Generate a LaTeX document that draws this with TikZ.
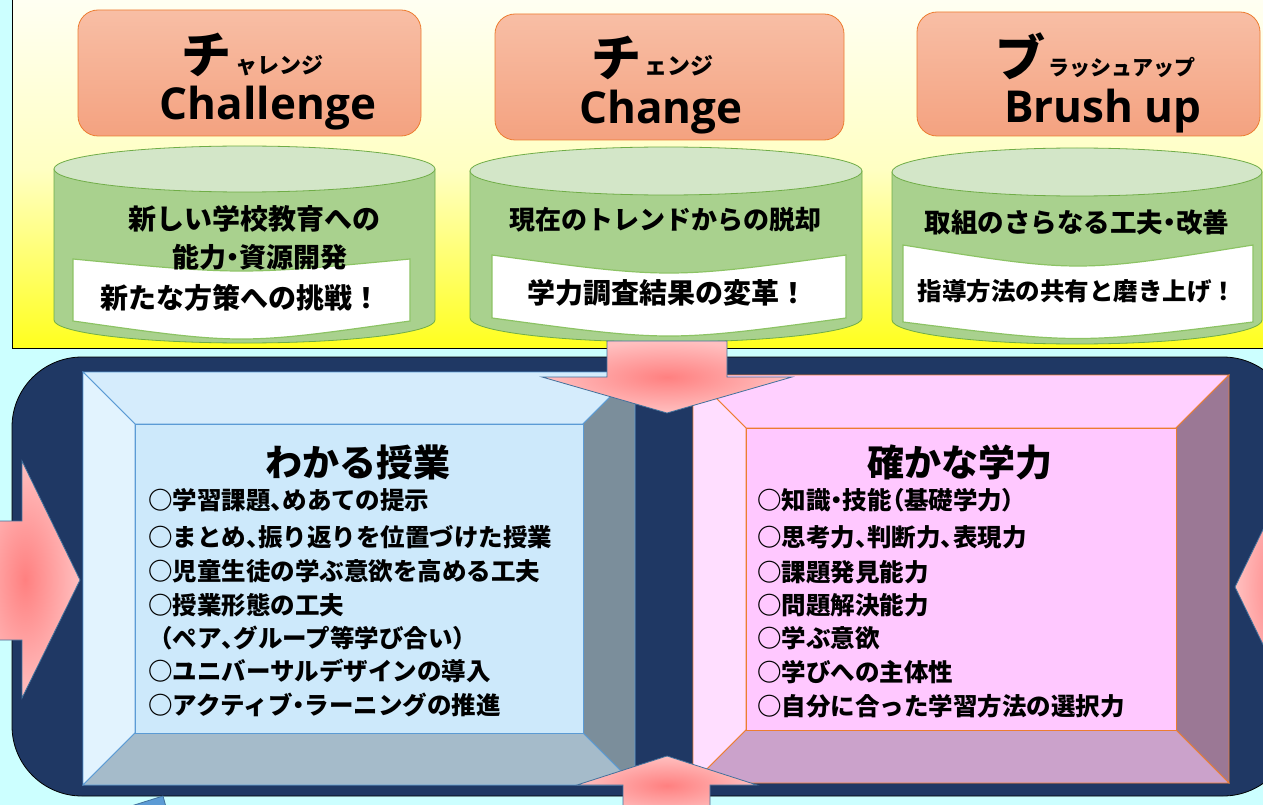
\documentclass[tikz,border=0pt]{standalone}
\usepackage{fontspec}
\newfontfamily\jp{Noto Sans CJK JP}
\newfontfamily\os{Open Sans}
\newcommand\hp[1]{{\addfontfeature{RawFeature=+palt}#1}}
\definecolor{bgcyan}{RGB}{204,255,255}
\definecolor{navy}{RGB}{31,56,100}
\definecolor{panTop}{RGB}{255,255,245}
\definecolor{panMid}{RGB}{255,255,195}
\definecolor{panBot}{RGB}{255,255,30}
\definecolor{orTop}{RGB}{248,190,165}
\definecolor{orBot}{RGB}{244,162,128}
\definecolor{orLine}{RGB}{237,125,49}
\definecolor{cylBody}{RGB}{169,209,142}
\definecolor{cylTop}{RGB}{211,230,200}
\definecolor{cylLine}{RGB}{112,173,71}
\definecolor{bandLine}{RGB}{140,195,100}
\definecolor{arIn}{RGB}{255,128,128}
\definecolor{arOut}{RGB}{255,192,192}
\definecolor{arLine}{RGB}{65,113,156}
\definecolor{bLine}{RGB}{91,155,213}
\definecolor{bTop}{RGB}{213,236,252}
\definecolor{bLeft}{RGB}{226,243,254}
\definecolor{bRight}{RGB}{123,142,155}
\definecolor{bBot}{RGB}{165,187,202}
\definecolor{bFace}{RGB}{205,233,251}
\definecolor{pTop}{RGB}{255,208,255}
\definecolor{pLeft}{RGB}{255,222,255}
\definecolor{pRight}{RGB}{155,120,149}
\definecolor{pBot}{RGB}{203,162,203}
\definecolor{pFace}{RGB}{255,200,255}
\definecolor{smallBlue}{RGB}{91,155,213}

\newcommand\drawcyl[5]{%
  \pgfmathsetmacro\cx{(#1+#2)/2}%
  \pgfmathsetmacro\rx{(#2-#1)/2}%
  \pgfmathsetmacro\kx{0.5523*\rx}%
  \pgfmathsetmacro\ky{0.5523*#5}%
  \pgfmathsetmacro\byy{#4+#5}%
  \path[cylbody] (#1,#3) -- (#1,#4) .. controls (#1,#4+\ky) and (\cx-\kx,\byy) .. (\cx,\byy)
     .. controls (\cx+\kx,\byy) and (#2,#4+\ky) .. (#2,#4) -- (#2,#3) -- cycle;
  \path[cyltop] (\cx,#3) ellipse [x radius=\rx pt, y radius=#5 pt];
}
\newcommand\drawband[6]{%
  \pgfmathsetmacro\cx{(#1+#2)/2}%
  \path[cylband] (#1,#3) .. controls (\cx,#3+2*#4) .. (#2,#3) -- (#2,#5)
     .. controls (\cx,#5+2*#6) .. (#1,#5) -- cycle;
}

\begin{document}
\begin{tikzpicture}[x=1pt,y=-1pt,
  hdr/.style={rounded corners=20pt, top color=orTop, bottom color=orBot, draw=orLine, line width=0.8pt, inner sep=0pt},
  cylbody/.style={fill=cylBody, draw=cylLine, line width=0.8pt},
  cyltop/.style={fill=cylTop, draw=cylLine, line width=0.8pt},
  cylband/.style={fill=white, draw=bandLine, line width=1.2pt},
  txt/.style={inner sep=0pt, text=black},
  bigkana/.style={txt, font=\jp\bfseries\fontsize{50}{50}\selectfont},
  eng/.style={txt, anchor=base, font=\os\bfseries\fontsize{44}{44}\selectfont},
  cyltxt/.style={txt, font=\jp\bfseries\fontsize{27}{27}\selectfont},
  title/.style={txt, font=\jp\bfseries\fontsize{37}{37}\selectfont},
  item/.style={txt, anchor=west, font=\jp\bfseries\fontsize{24.5}{24.5}\selectfont},
  arrowshape/.style={shading=radial, inner color=arIn, outer color=arOut, draw=arLine, line width=0.8pt},
  bevL/.style={draw=bLine, line width=0.8pt},
  bevR/.style={draw=orLine, line width=0.8pt}
]
\useasboundingbox (0,0) rectangle (1263,805);
\clip (0,0) rectangle (1263,805);
\fill[bgcyan] (0,0) rectangle (1263,805);

% ---------- top panel ----------
\shade[top color=panTop, bottom color=panBot, middle color=panMid] (12,-10) rectangle (1290,348);
\draw[black, line width=1pt] (12,-10) -- (12,348) -- (1290,348);

% header boxes
\node[hdr, minimum width=343pt, minimum height=126pt] (h1) at (249.5,73) {};
\node[hdr, minimum width=349pt, minimum height=126pt] (h2) at (669.5,77) {};
\node[hdr, minimum width=343pt, minimum height=124pt] (h3) at (1088.5,74) {};

\node[bigkana] (h1a) at (206,55) {チ};
\node[txt, font=\jp\bfseries\fontsize{22}{22}\selectfont] (h1b) at (279,66) {ャレンジ};
\node[eng] (h1c) at (268,120) {Challenge};

\node[bigkana] (h2a) at (616,58) {チ};
\node[txt, font=\jp\bfseries\fontsize{23}{23}\selectfont] (h2b) at (679,66) {ェンジ};
\node[eng] (h2c) at (661,124) {Change};

\node[bigkana] (h3a) at (1020,56) {ブ};
\node[txt, font=\jp\bfseries\fontsize{21}{21}\selectfont] (h3b) at (1122,68) {ラッシュアップ};
\node[eng] (h3c) at (1103,123) {Brush up};

% cylinders
\drawcyl{54}{435}{169}{320}{23}
\drawcyl{470}{862}{171}{318}{24}
\drawcyl{892}{1262}{172}{320}{24}

\drawband{73}{410}{259}{8}{321}{12}
\drawband{492}{846}{255}{12}{318}{12}
\drawband{903}{1253}{245}{14}{322}{11}

\node[cyltxt, font=\jp\bfseries\fontsize{28}{28}\selectfont] (c1a) at (254,219) {新しい学校教育への};
\node[cyltxt] (c1b) at (260,257) {能力\hp{・}資源開発};
\node[cyltxt, font=\jp\bfseries\fontsize{28}{28}\selectfont] (c1c) at (240,298) {新たな方策への挑戦！};

\node[cyltxt, font=\jp\bfseries\fontsize{26}{26}\selectfont] (c2a) at (665,220) {現在のトレンドからの脱却};
\node[cyltxt, font=\jp\bfseries\fontsize{28}{28}\selectfont] (c2b) at (667,293) {学力調査結果の変革！};

\node[cyltxt, font=\jp\bfseries\fontsize{26.5}{26.5}\selectfont] (c3a) at (1077,222) {取組のさらなる工夫\hp{・}改善};
\node[cyltxt, font=\jp\bfseries\fontsize{24.5}{24.5}\selectfont] (c3b) at (1077,291) {指導方法の共有と磨き上げ！};

% ---------- bottom area ----------
\draw[fill=navy, draw=black, line width=0.8pt, rounded corners=70pt] (12,357) rectangle (1293,796);

% left bevel box
\path[bevL, fill=bTop] (83,372) -- (635,372) -- (583,424) -- (135,424) -- cycle;
\path[bevL, fill=bLeft] (83,372) -- (135,424) -- (135,733) -- (83,785) -- cycle;
\path[bevL, fill=bRight] (635,372) -- (635,785) -- (583,733) -- (583,424) -- cycle;
\path[bevL, fill=bBot] (83,785) -- (635,785) -- (583,733) -- (135,733) -- cycle;
\node[bevL, fill=bFace, minimum width=448pt, minimum height=309pt, inner sep=0pt] (lface) at (359,578.5) {};

% right bevel box
\path[bevR, fill=pTop] (693,375) -- (1229,375) -- (1176,428) -- (746,428) -- cycle;
\path[bevR, fill=pLeft] (693,375) -- (746,428) -- (746,730) -- (693,783) -- cycle;
\path[bevR, fill=pRight] (1229,375) -- (1229,783) -- (1176,730) -- (1176,428) -- cycle;
\path[bevR, fill=pBot] (693,783) -- (1229,783) -- (1176,730) -- (746,730) -- cycle;
\node[bevR, fill=pFace, minimum width=430pt, minimum height=302pt, inner sep=0pt] (rface) at (961,579) {};

% left texts
\node[title] (lt) at (358,462) {わかる授業};
\node[item] (l1) at (148,500) {○学習課題\hp{、}めあての提示};
\node[item] (l2) at (148,537) {○まとめ\hp{、}振り返りを位置づけた授業};
\node[item] (l3) at (148,571) {○児童生徒の学ぶ意欲を高める工夫};
\node[item] (l4) at (148,605) {○授業形態の工夫};
\node[item] (l5) at (148,638) {（ペア\hp{、}グループ等学び合い）};
\node[item] (l6) at (148,671) {○ユニバーサルデザインの導入};
\node[item] (l7) at (148,705) {○アクティブ\hp{・}ラーニングの推進};

% right texts
\node[title] (rt) at (960,462) {確かな学力};
\node[item] (r1) at (757,500) {○知識\hp{・}技能\hp{（}基礎学力\hp{）}};
\node[item] (r2) at (757,537) {○思考力\hp{、}判断力\hp{、}表現力};
\node[item] (r3) at (757,572) {○課題発見能力};
\node[item] (r4) at (757,605) {○問題解決能力};
\node[item] (r5) at (757,638) {○学ぶ意欲};
\node[item] (r6) at (757,672) {○学びへの主体性};
\node[item] (r7) at (757,706) {○自分に合った学習方法の選択力};

% ---------- arrows ----------
\path[arrowshape] (607,341) -- (727,341) -- (727,377) -- (792,377) -- (667,413) -- (542,377) -- (607,377) -- cycle;
\path[arrowshape] (667,756) -- (757,785) -- (710,785) -- (710,815) -- (623,815) -- (623,785) -- (577,785) -- cycle;
\path[arrowshape] (-30,521) -- (22,521) -- (22,461) -- (80,580) -- (22,698) -- (22,640) -- (-30,640) -- cycle;
\path[arrowshape] (1235,587) -- (1293,468) -- (1293,528) -- (1330,528) -- (1330,647) -- (1293,647) -- (1293,706) -- cycle;

% small blue shape at bottom
\path[fill=smallBlue, draw=arLine, line width=0.8pt] (128,807) -- (163,796) -- (166,807) -- cycle;
\end{tikzpicture}
\end{document}
